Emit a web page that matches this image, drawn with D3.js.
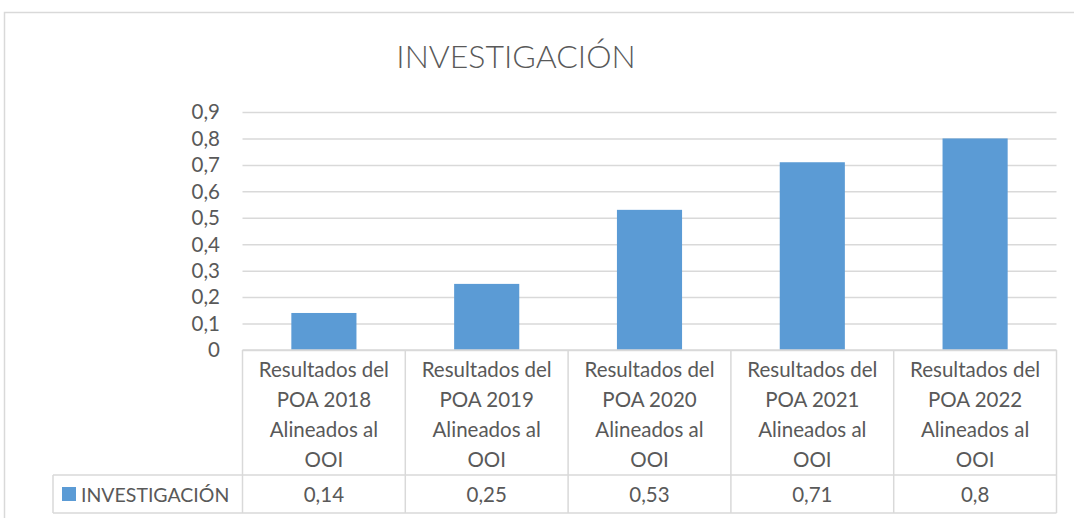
<!DOCTYPE html>
<html>
<head>
<meta charset="utf-8">
<script src="https://cdn.jsdelivr.net/npm/d3@7"></script>
<style>
  html, body { margin: 0; padding: 0; background: #fff; }
  svg { display: block; }
</style>
</head>
<body>
<div id="chart"></div>
<script>
// Données
const title = "INVESTIGACIÓN"
const seriesName = "INVESTIGACIÓN"
const categories = [
  ["Resultados del", "POA 2018", "Alineados al", "OOI"],
  ["Resultados del", "POA 2019", "Alineados al", "OOI"],
  ["Resultados del", "POA 2020", "Alineados al", "OOI"],
  ["Resultados del", "POA 2021", "Alineados al", "OOI"],
  ["Resultados del", "POA 2022", "Alineados al", "OOI"],
]
const values = [0.14, 0.25, 0.53, 0.71, 0.8]
const valueLabels = ["0,14", "0,25", "0,53", "0,71", "0,8"]
const yTicks = [0, 0.1, 0.2, 0.3, 0.4, 0.5, 0.6, 0.7, 0.8, 0.9]

const W = 1074, H = 518
const font = "Lato, 'Open Sans', sans-serif"
const textColor = "#595959"
const gridColor = "#D9D9D9"
const barColor = "#5B9BD5"
const fs = 20.5

const plot = { left: 242.5, right: 1056.5, top: 112, bottom: 350 }
const tableRow1 = 475, tableBottom = 513, legendLeft = 53

const svg = d3.select("#chart").append("svg")
  .attr("width", W).attr("height", H)
  .style("font-family", font)

// cadre du graphique
svg.append("rect")
  .attr("x", 4.5).attr("y", 12.5)
  .attr("width", W + 10).attr("height", H + 10)
  .attr("fill", "#fff").attr("stroke", gridColor).attr("stroke-width", 1.5)

svg.append("text")
  .attr("x", 516).attr("y", 68)
  .attr("text-anchor", "middle")
  .attr("fill", textColor).attr("font-size", 32).attr("font-weight", 300)
  .text(title)

const x = d3.scaleBand()
  .domain(d3.range(values.length))
  .range([plot.left, plot.right])
  .paddingInner(0.6).paddingOuter(0.3)

const y = d3.scaleLinear().domain([0, 0.9]).range([plot.bottom, plot.top])

// grille horizontale
svg.append("g")
  .attr("transform", `translate(${plot.left},0)`)
  .call(d3.axisLeft(y).tickValues(yTicks).tickSize(-(plot.right - plot.left)).tickFormat(""))
  .call(s => s.select(".domain").remove())
  .call(s => s.selectAll("line").attr("stroke", gridColor).attr("stroke-width", 1.5))

// étiquettes de l'axe Y
svg.append("g")
  .selectAll("text")
  .data(yTicks)
  .join("text")
  .attr("x", 220).attr("y", d => y(d))
  .attr("dy", "0.36em")
  .attr("text-anchor", "end")
  .attr("fill", textColor).attr("font-size", fs)
  .text(d => d3.format(".1~f")(d).replace(".", ","))

// barres
svg.append("g")
  .selectAll("rect")
  .data(values)
  .join("rect")
  .attr("x", (_, i) => x(i))
  .attr("width", x.bandwidth())
  .attr("y", d => y(d))
  .attr("height", d => y(0) - y(d))
  .attr("fill", barColor)

// tableau de données
const step = x.step()
const colX = i => plot.left + i * step
const tg = svg.append("g").attr("stroke", gridColor).attr("stroke-width", 1.5)
tg.append("line").attr("x1", plot.left).attr("x2", plot.right).attr("y1", plot.bottom).attr("y2", plot.bottom)
tg.append("line").attr("x1", legendLeft).attr("x2", plot.right).attr("y1", tableRow1).attr("y2", tableRow1)
tg.append("line").attr("x1", legendLeft).attr("x2", plot.right).attr("y1", tableBottom).attr("y2", tableBottom)
tg.append("line").attr("x1", legendLeft).attr("x2", legendLeft).attr("y1", tableRow1).attr("y2", tableBottom)
d3.range(values.length + 1).forEach(i => {
  tg.append("line")
    .attr("x1", colX(i)).attr("x2", colX(i))
    .attr("y1", plot.bottom).attr("y2", tableBottom)
})

// libellés des catégories
categories.forEach((lines, i) => {
  svg.append("text")
    .attr("text-anchor", "middle")
    .attr("fill", textColor).attr("font-size", fs)
    .selectAll("tspan")
    .data(lines)
    .join("tspan")
    .attr("x", colX(i) + step / 2)
    .attr("y", (_, k) => 377 + k * 30)
    .text(d => d)
})

// valeurs
svg.append("g")
  .selectAll("text")
  .data(valueLabels)
  .join("text")
  .attr("x", (_, i) => colX(i) + step / 2)
  .attr("y", 502)
  .attr("text-anchor", "middle")
  .attr("fill", textColor).attr("font-size", fs)
  .text(d => d)

// légende
svg.append("rect")
  .attr("x", 62).attr("y", 487).attr("width", 14).attr("height", 14)
  .attr("fill", barColor)
svg.append("text")
  .attr("x", 81).attr("y", 502)
  .attr("fill", textColor).attr("font-size", 19.5)
  .text(seriesName)
</script>
</body>
</html>
